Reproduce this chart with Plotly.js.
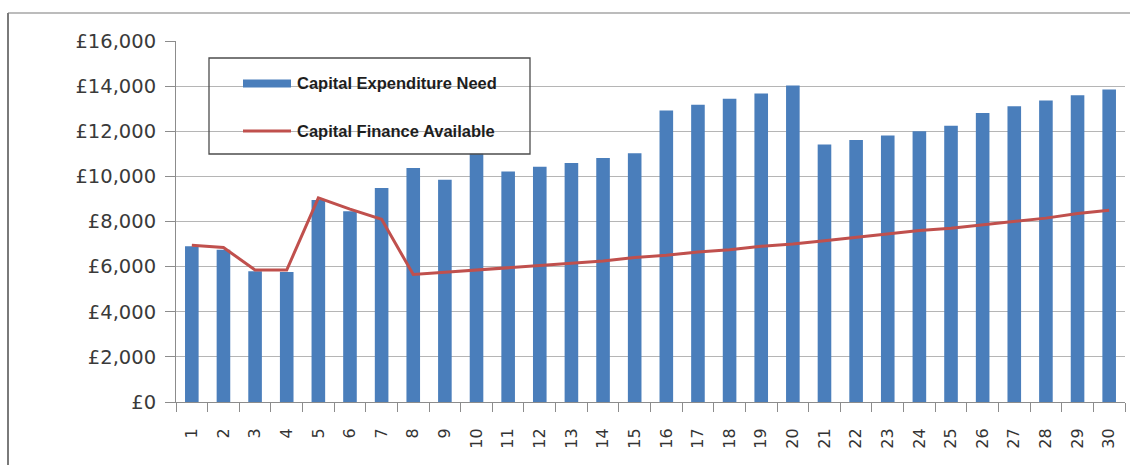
<!DOCTYPE html>
<html>
<head>
<meta charset="utf-8">
<script src="https://cdn.plot.ly/plotly-3.0.1.min.js"></script>
<style>
  html, body { margin: 0; padding: 0; background: #ffffff; }
  #chart { width: 1130px; height: 465px; }
</style>
</head>
<body>
<div id="chart"></div>
<script>
// ---- Data ----
const years = ['1','2','3','4','5','6','7','8','9','10','11','12','13','14','15',
               '16','17','18','19','20','21','22','23','24','25','26','27','28','29','30'];

const capitalExpenditureNeed = [
  6900, 6750, 5800, 5760, 8950, 8450, 9480, 10370, 9850, 11000,
  10220, 10430, 10590, 10815, 11020, 12920, 13170, 13440, 13670, 14030,
  11410, 11610, 11810, 12000, 12240, 12810, 13110, 13360, 13600, 13850
];

const capitalFinanceAvailable = [
  6950, 6850, 5850, 5850, 9050, 8550, 8100, 5650, 5750, 5850,
  5950, 6050, 6150, 6250, 6400, 6500, 6650, 6750, 6900, 7000,
  7150, 7300, 7450, 7600, 7700, 7850, 8000, 8150, 8350, 8500
];

const seriesNames = ['Capital Expenditure Need', 'Capital Finance Available'];
const yTickValues = [0, 2000, 4000, 6000, 8000, 10000, 12000, 14000, 16000];
const yTickLabels = ['\u00A30', '\u00A32,000', '\u00A34,000', '\u00A36,000', '\u00A38,000',
                     '\u00A310,000', '\u00A312,000', '\u00A314,000', '\u00A316,000'];

// ---- Styling / geometry ----
const W = 1130, H = 465;
const M = { l: 176, r: 5, t: 41, b: 63 };
const PW = W - M.l - M.r, PH = H - M.t - M.b;
const px = x => (x - M.l) / PW;          // pixel -> paper x
const py = y => (H - M.b - y) / PH;      // pixel -> paper y

const BLUE = '#4a7ebb';
const RED = '#c0504d';

const traces = [
  {
    type: 'bar', x: years, y: capitalExpenditureNeed, name: seriesNames[0],
    marker: { color: BLUE }, width: 0.43, showlegend: false
  },
  {
    type: 'scatter', mode: 'lines', x: years, y: capitalFinanceAvailable, name: seriesNames[1],
    line: { color: RED, width: 3 }, showlegend: false
  }
];

// Legend drawn as a framed box (transparent, gridlines pass through)
const legendFont = { family: 'Liberation Sans, Arial, sans-serif', size: 16.5, color: '#1e1e1e', weight: 'bold' };
const shapes = [
  // outer frame (top & left edges of the embedded chart object)
  { type: 'line', xref: 'paper', yref: 'paper', x0: px(8), x1: px(1140), y0: py(13), y1: py(13),
    line: { color: '#a6a6a6', width: 1.5 } },
  { type: 'line', xref: 'paper', yref: 'paper', x0: px(8), x1: px(8), y0: py(13), y1: py(470),
    line: { color: '#7a7a7a', width: 2 } },
  // legend box
  { type: 'rect', xref: 'paper', yref: 'paper', x0: px(209), x1: px(530), y0: py(154), y1: py(58),
    line: { color: '#4d4d4d', width: 1.3 }, fillcolor: 'rgba(0,0,0,0)' },
  // legend swatches
  { type: 'rect', xref: 'paper', yref: 'paper', x0: px(243), x1: px(291), y0: py(87.5), y1: py(79.5),
    line: { width: 0 }, fillcolor: BLUE },
  { type: 'line', xref: 'paper', yref: 'paper', x0: px(243), x1: px(291), y0: py(131), y1: py(131),
    line: { color: RED, width: 3 } }
];

const annotations = [
  { xref: 'paper', yref: 'paper', x: px(295), y: py(83), xanchor: 'left', yanchor: 'middle',
    text: seriesNames[0], showarrow: false, font: legendFont },
  { xref: 'paper', yref: 'paper', x: px(295), y: py(131), xanchor: 'left', yanchor: 'middle',
    text: seriesNames[1], showarrow: false, font: legendFont }
];

const layout = {
  width: W, height: H,
  margin: M,
  paper_bgcolor: '#ffffff',
  plot_bgcolor: '#ffffff',
  showlegend: false,
  bargap: 0.56,
  xaxis: {
    type: 'category',
    tickangle: -90,
    tickson: 'boundaries',
    ticks: 'outside', ticklen: 9, tickcolor: '#8c8c8c', tickwidth: 1,
    showline: true, linecolor: '#8c8c8c', linewidth: 1,
    showgrid: false,
    tickfont: { family: 'DejaVu Sans, sans-serif', size: 16, color: '#333333' },
    ticklabelstandoff: 19,
    fixedrange: true
  },
  yaxis: {
    range: [0, 16000],
    tickmode: 'array',
    tickvals: yTickValues,
    ticktext: yTickLabels,
    ticks: 'outside', ticklen: 10, tickcolor: '#8c8c8c', tickwidth: 1,
    showline: true, linecolor: '#8c8c8c', linewidth: 1,
    showgrid: true, gridcolor: '#b5b5b5', gridwidth: 1,
    zeroline: false,
    tickfont: { family: 'DejaVu Sans, sans-serif', size: 19.5, color: '#3a3a3a' },
    ticklabelstandoff: 5,
    fixedrange: true
  },
  shapes: shapes,
  annotations: annotations
};

Plotly.newPlot('chart', traces, layout, { staticPlot: true, displayModeBar: false });
</script>
</body>
</html>
